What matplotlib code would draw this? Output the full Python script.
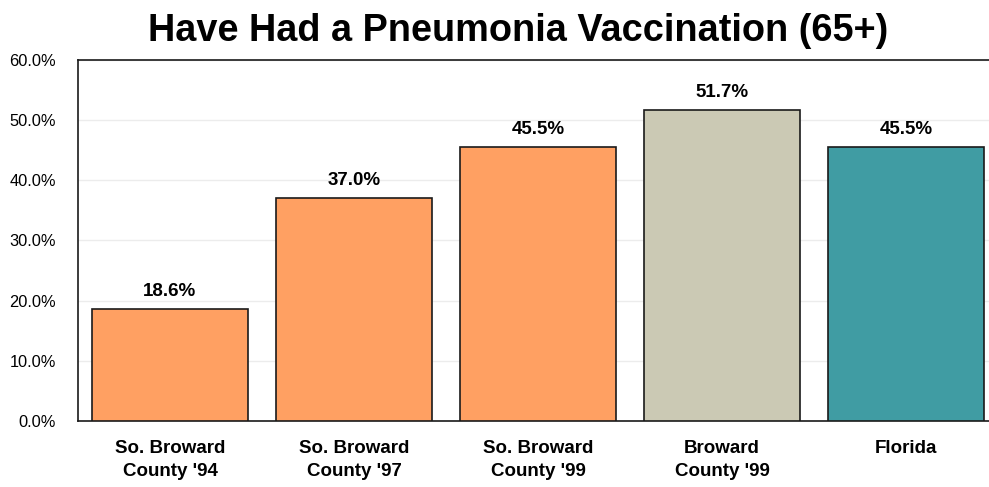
import matplotlib
matplotlib.use("Agg")
import matplotlib.pyplot as plt
from matplotlib.ticker import FuncFormatter

categories = ["So. Broward\nCounty '94", "So. Broward\nCounty '97", "So. Broward\nCounty '99",
              "Broward\nCounty '99", "Florida"]
values = [18.6, 37.0, 45.5, 51.7, 45.5]
colors = ["#FFA062", "#FFA062", "#FFA062", "#CBC9B4", "#409CA3"]
yticks = [0, 10, 20, 30, 40, 50, 60]

plt.rcParams["font.family"] = ["Liberation Sans", "DejaVu Sans"]

fig = plt.figure(figsize=(9.89, 4.87), dpi=100)
ax = fig.add_axes([78 / 989, 1 - 421 / 487, 920 / 989, 361 / 487])

x = list(range(len(categories)))
ax.bar(x, values, width=0.853, color=colors, edgecolor="#1a1a1a", linewidth=1.2, zorder=3)

for xi, v in zip(x, values):
    ax.text(xi, v + 1.5, f"{v:.1f}%", ha="center", va="bottom", fontsize=13.5,
            fontweight="bold")

ax.set_xlim(-0.5, 4.5)
ax.set_ylim(0, 60)
ax.set_yticks(yticks)
ax.yaxis.set_major_formatter(FuncFormatter(lambda v, p: f"{v:.1f}%"))
ax.tick_params(axis="y", length=0, labelsize=11.8, pad=16)
ax.tick_params(axis="x", length=0, pad=14)
ax.set_xticks(x)
ax.set_xticklabels(categories, fontsize=13.5, fontweight="bold", linespacing=1.45)
ax.grid(axis="y", color="#ececec", linewidth=1, zorder=0)

for side in ["left", "top", "bottom"]:
    ax.spines[side].set_linewidth(1.2)
    ax.spines[side].set_color("#1a1a1a")
ax.spines["right"].set_visible(False)

fig.text(0.524, 0.937, "Have Had a Pneumonia Vaccination (65+)", ha="center", va="center",
         fontsize=27.3, fontweight="bold")

fig.savefig("out.png", dpi=100)
